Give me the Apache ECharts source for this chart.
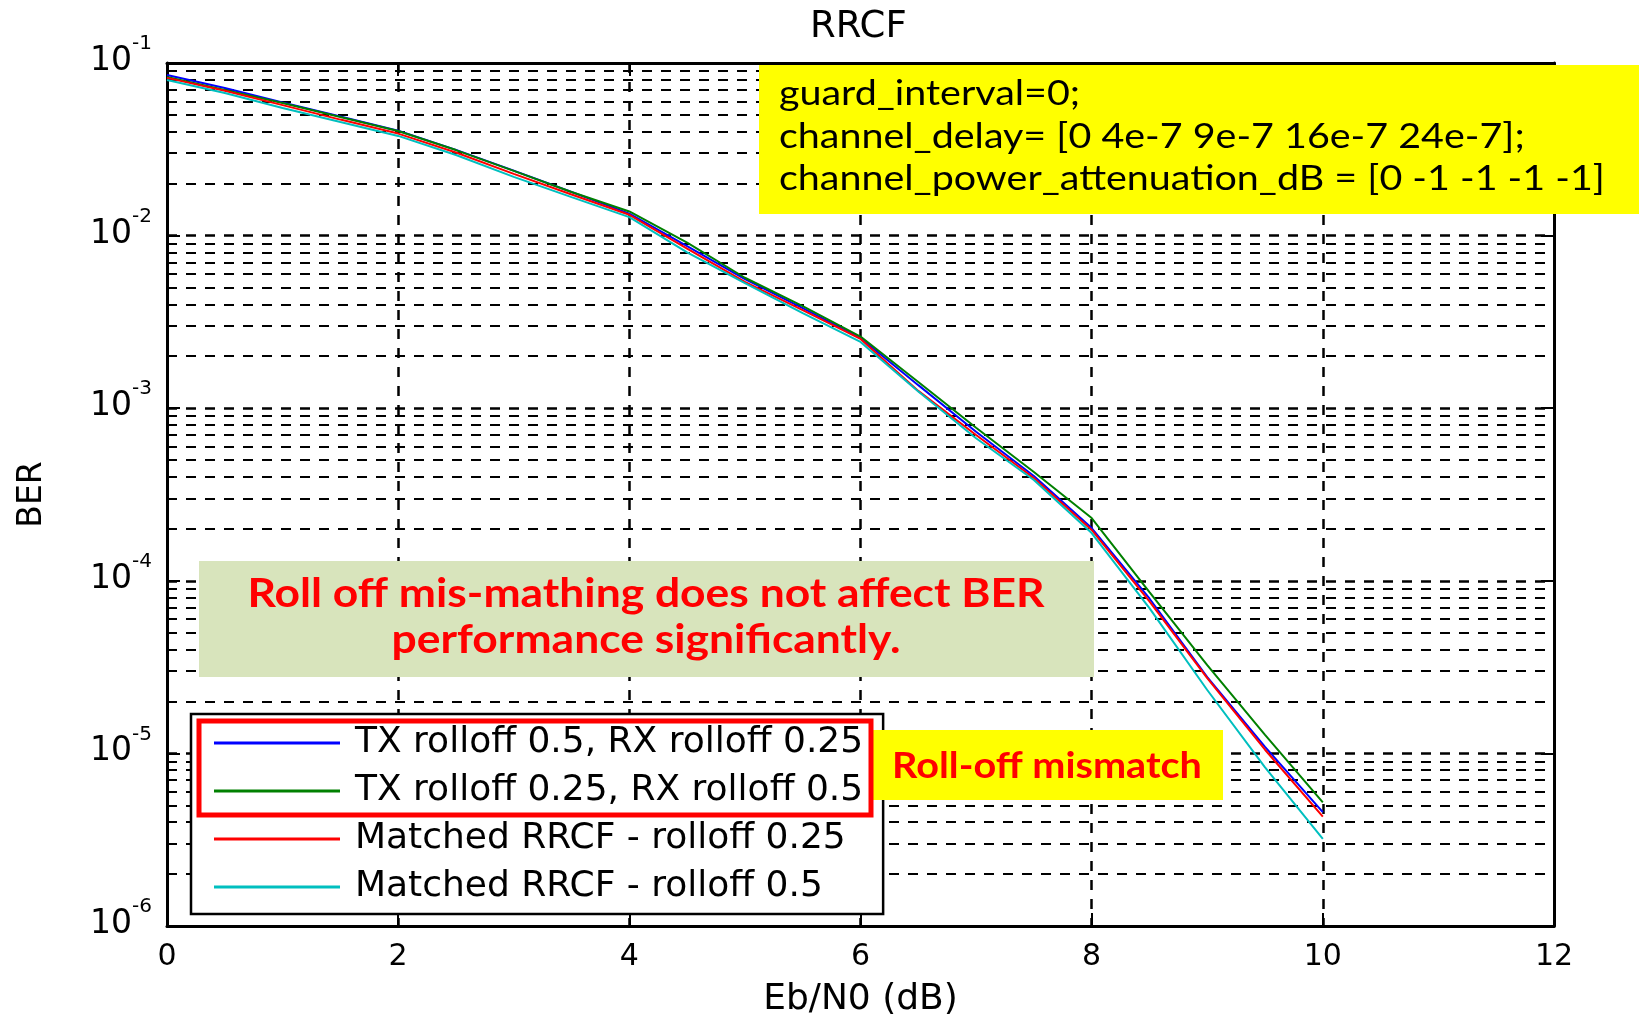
<!DOCTYPE html>
<html>
<head>
<meta charset="utf-8">
<script src="https://cdn.jsdelivr.net/npm/echarts@6/dist/echarts.min.js"></script>
<style>
html,body{margin:0;padding:0;background:#fff;}
#chart{width:1639px;height:1014px;}
</style>
</head>
<body>
<div id="chart"></div>
<script>
// ---- data ----
const ebn0 = [0, 0.5, 1, 1.5, 2, 2.5, 3, 3.5, 4, 4.5, 5, 5.5, 6, 6.5, 7, 7.5, 8, 8.5, 9, 9.5, 10];
const berTx05Rx025 = [0.0852, 0.0716, 0.0590, 0.0490, 0.0405, 0.0314, 0.0238, 0.0179, 0.0134, 0.0087, 0.0056, 0.0038, 0.00255, 0.00136, 7.3e-4, 4.05e-4, 2.02e-4, 7.9e-5, 2.77e-5, 1.09e-5, 4.57e-6];
const berTx025Rx05 = [0.0830, 0.0698, 0.0586, 0.0487, 0.0404, 0.0313, 0.0237, 0.0179, 0.0138, 0.0091, 0.0057, 0.0039, 0.0026, 0.00142, 7.7e-4, 4.27e-4, 2.31e-4, 8.6e-5, 3.25e-5, 1.28e-5, 5.2e-6];
const berMatched025 = [0.0820, 0.0690, 0.0570, 0.0470, 0.0390, 0.0303, 0.0228, 0.0173, 0.0132, 0.0084, 0.0054, 0.0037, 0.00252, 0.00126, 7.0e-4, 3.94e-4, 1.97e-4, 7.6e-5, 2.73e-5, 1.05e-5, 4.3e-6];
const berMatched05 = [0.0797, 0.0670, 0.0548, 0.0455, 0.0378, 0.0293, 0.0219, 0.0167, 0.0128, 0.0080, 0.0053, 0.00356, 0.00242, 0.00125, 6.7e-4, 3.84e-4, 1.89e-4, 6.95e-5, 2.33e-5, 8.3e-6, 3.2e-6];
const seriesNames = ['TX rolloff 0.5, RX rolloff 0.25', 'TX rolloff 0.25, RX rolloff 0.5', 'Matched RRCF - rolloff 0.25', 'Matched RRCF - rolloff 0.5'];
const xTicks = [0, 2, 4, 6, 8, 10, 12];
const yDecades = [1e-6, 1e-5, 1e-4, 1e-3, 1e-2, 1e-1];
const minorMultipliers = [2, 3, 4, 5, 6, 7, 8, 9];

// ---- styling ----
const colors = ['#0000ff', '#008000', '#ff0000', '#00bfbf'];
const FONT = 'DejaVu Sans';
const dash = [10, 9];

const minorValues = [];
yDecades.slice(0, -1).forEach(d => minorMultipliers.forEach(m => minorValues.push(+(d * m).toPrecision(3))));

const allData = [berTx05Rx025, berTx025Rx05, berMatched025, berMatched05];

const chart = echarts.init(document.getElementById('chart'), null, {renderer: 'canvas'});

const axisCommon = {
  axisLine: {show: true, onZero: false, lineStyle: {color: '#000', width: 3}},
  axisTick: {show: true, inside: true, length: 13, lineStyle: {color: '#000', width: 2}}
};

function annot(text, x, y, font, fill, align, lineHeight, sx) {
  return {type: 'text', z: 101, x: x, y: y, scaleX: sx, scaleY: 1,
    style: {text: text, x: 0, y: 0, font: font, fill: fill, align: align, verticalAlign: 'middle', lineHeight: lineHeight}};
}

const option = {
  backgroundColor: '#fff',
  animation: false,
  title: {
    text: 'RRCF',
    left: 805, top: 4,
    textStyle: {fontFamily: FONT, fontSize: 37, fontWeight: 'normal', color: '#000'}
  },
  grid: {left: 167, right: 85, top: 63, bottom: 88, containLabel: false, outerBoundsMode: 'none'},
  xAxis: [{
    type: 'value', min: xTicks[0], max: xTicks[xTicks.length - 1], interval: 2,
    position: 'bottom',
    name: 'Eb/N0 (dB)', nameLocation: 'middle', nameGap: 56,
    nameTextStyle: {fontFamily: FONT, fontSize: 36, color: '#000'},
    ...axisCommon,
    axisLabel: {fontFamily: FONT, fontSize: 30, color: '#000', margin: 16},
    splitLine: {show: true, lineStyle: {color: '#000', width: 2.5, type: dash}}
  }, {
    type: 'value', min: xTicks[0], max: xTicks[xTicks.length - 1], interval: 2,
    position: 'top',
    ...axisCommon,
    axisLabel: {show: false},
    splitLine: {show: false}
  }],
  yAxis: [{
    type: 'log', logBase: 10, min: yDecades[0], max: yDecades[yDecades.length - 1], splitNumber: 5,
    position: 'left',
    name: 'BER', nameLocation: 'middle', nameGap: 118,
    nameTextStyle: {fontFamily: FONT, fontSize: 33, color: '#000'},
    ...axisCommon,
    axisLabel: {
      margin: 15,
      padding: [0, 0, 14, 0],
      formatter: v => '{b|10}{s|' + Math.round(Math.log10(v)) + '}',
      rich: {
        b: {fontFamily: FONT, fontSize: 33, color: '#000', padding: [11, 0, 0, 0], verticalAlign: 'bottom'},
        s: {fontFamily: FONT, fontSize: 20, color: '#000', verticalAlign: 'top'}
      }
    },
    splitLine: {show: true, lineStyle: {color: '#000', width: 2.5, type: dash}}
  }, {
    type: 'log', logBase: 10, min: yDecades[0], max: yDecades[yDecades.length - 1], splitNumber: 5,
    position: 'right',
    ...axisCommon,
    axisLabel: {show: false},
    splitLine: {show: false}
  }],
  legend: {
    data: seriesNames,
    orient: 'vertical',
    left: 191, top: 714,
    z: 50,
    padding: [11, 20, 9, 23],
    itemGap: 12,
    itemWidth: 126, itemHeight: 3,
    icon: 'rect',
    backgroundColor: '#fff',
    borderColor: '#000', borderWidth: 2.5,
    borderRadius: 0,
    textStyle: {fontFamily: FONT, fontSize: 36, color: '#000', lineHeight: 35, padding: [0, 0, 0, 10]}
  },
  series: [
    {
      name: 'grid-minor', type: 'line', data: [], silent: true, z: 1,
      markLine: {
        silent: true, symbol: ['none', 'none'], label: {show: false},
        precision: 12, z: 1,
        lineStyle: {color: '#000', width: 2.2, type: dash},
        emphasis: {disabled: true},
        data: minorValues.map(v => ({yAxis: v}))
      }
    }
  ].concat(allData.map((arr, i) => ({
    name: seriesNames[i],
    type: 'line',
    data: ebn0.map((x, j) => [x, arr[j]]),
    showSymbol: false, symbol: 'none',
    z: 3,
    color: colors[i],
    lineStyle: {color: colors[i], width: 2}
  }))),
  graphic: [
    {type: 'rect', z: 100, shape: {x: 759, y: 65, width: 880, height: 149}, style: {fill: '#ffff00'}},
    annot('guard_interval=0;\nchannel_delay= [0 4e-7 9e-7 16e-7 24e-7];\nchannel_power_attenuation_dB = [0 -1 -1 -1 -1]',
      779, 137, '34px Lato', '#000', 'left', 42.5, 1.16),
    {type: 'rect', z: 100, shape: {x: 199, y: 561, width: 895, height: 116}, style: {fill: '#d8e4bc'}},
    annot('Roll off mis-mathing does not affect BER\nperformance significantly.',
      646, 617, 'bold 40px Lato', '#ff0000', 'center', 46, 1.11),
    {type: 'rect', z: 100, shape: {x: 873, y: 730, width: 350, height: 70}, style: {fill: '#ffff00'}},
    annot('Roll-off mismatch', 1047, 766, 'bold 36px Lato', '#ff0000', 'center', 40, 1.1),
    {type: 'rect', z: 102, shape: {x: 199, y: 721, width: 672, height: 94}, style: {fill: 'none', stroke: '#ff0000', lineWidth: 5}}
  ]
};
chart.setOption(option);
</script>
</body>
</html>
